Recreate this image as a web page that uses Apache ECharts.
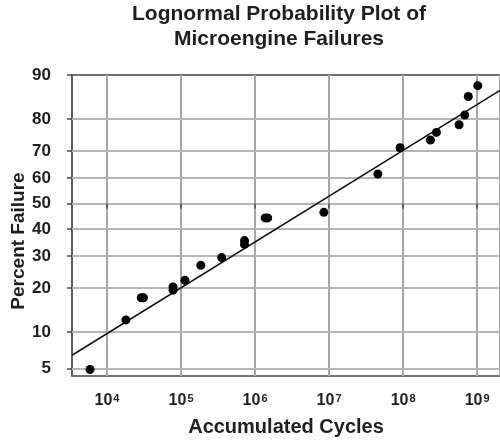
<!DOCTYPE html>
<html>
<head>
<meta charset="utf-8">
<script src="https://cdn.jsdelivr.net/npm/echarts@6/dist/echarts.min.js"></script>
<style>
  html, body { margin: 0; padding: 0; background: #fff; }
  #chart { width: 500px; height: 442px; }
</style>
</head>
<body>
<div id="chart"></div>
<script>
// Observed failures: accumulated cycles at failure and cumulative percent failed
const cycles = [5.9e3, 1.8e4, 2.9e4, 3.1e4, 7.8e4, 7.8e4, 1.13e5, 1.85e5, 3.54e5, 7.2e5, 7.2e5,
                1.37e6, 1.48e6, 8.5e6, 4.56e7, 9.1e7, 2.34e8, 2.82e8, 5.7e8, 6.8e8, 7.6e8, 1.02e9];
const percentFailed = [4.9, 12.3, 17.4, 17.4, 20.3, 19.4, 22.2, 26.9, 29.5, 35.6, 34.2,
                       44.3, 44.3, 46.5, 61.6, 71.1, 73.7, 76.1, 78.4, 81.1, 85.7, 88.0];

// Probability-scale tick labels (percent)
const percentTicks = [5, 10, 20, 30, 40, 50, 60, 70, 80, 90];

// Lognormal fit: median life (cycles) and shape in decades
const fitMedianCycles = 6.9e6;
const fitSigmaDecades = 2.19;

// Axis extents
const cycleMin = Math.pow(10, 3.527);
const cycleMax = Math.pow(10, 9.309);
const percentMin = 4.28;
const percentMax = 90;

// Inverse standard normal CDF (Acklam)
function probit(p) {
  const a = [-3.969683028665376e+01, 2.209460984245205e+02, -2.759285104469687e+02,
             1.383577518672690e+02, -3.066479806614716e+01, 2.506628277459239e+00];
  const b = [-5.447609879822406e+01, 1.615858368580409e+02, -1.556989798598866e+02,
             6.680131188771972e+01, -1.328068155288572e+01];
  const c = [-7.784894002430293e-03, -3.223964580411365e-01, -2.400758277161838e+00,
             -2.549732539343734e+00, 4.374664141464968e+00, 2.938163982698783e+00];
  const d = [7.784695709041462e-03, 3.224671290700398e-01, 2.445134137142996e+00,
             3.754408661907416e+00];
  const pl = 0.02425, ph = 1 - pl;
  let q, r;
  if (p < pl) {
    q = Math.sqrt(-2 * Math.log(p));
    return (((((c[0]*q+c[1])*q+c[2])*q+c[3])*q+c[4])*q+c[5]) /
           ((((d[0]*q+d[1])*q+d[2])*q+d[3])*q+1);
  }
  if (p <= ph) {
    q = p - 0.5; r = q * q;
    return (((((a[0]*r+a[1])*r+a[2])*r+a[3])*r+a[4])*r+a[5])*q /
           (((((b[0]*r+b[1])*r+b[2])*r+b[3])*r+b[4])*r+1);
  }
  q = Math.sqrt(-2 * Math.log(1 - p));
  return -(((((c[0]*q+c[1])*q+c[2])*q+c[3])*q+c[4])*q+c[5]) /
          ((((d[0]*q+d[1])*q+d[2])*q+d[3])*q+1);
}
const z = pct => probit(pct / 100);

const tickZ = percentTicks.map(z);
const pointData = cycles.map((c, i) => [c, z(percentFailed[i])]);
const fitZ = c => (Math.log10(c) - Math.log10(fitMedianCycles)) / fitSigmaDecades;
const fitData = [[cycleMin, fitZ(cycleMin)], [cycleMax, fitZ(cycleMax)]];

const ink = '#1e1e1e';
const axisInk = '#444';
const font = 'Liberation Sans, Arial, sans-serif';

const gridLeft = 72, gridRight = -3;
const plotWidth = 500 - gridLeft - gridRight;

const chart = echarts.init(document.getElementById('chart'), null, { renderer: 'canvas' });
chart.setOption({
  animation: false,
  backgroundColor: '#fff',
  graphic: [
    {
      type: 'text', x: 279, y: 2,
      style: {
        text: 'Lognormal Probability Plot of\nMicroengine Failures',
        fill: ink, font: 'bold 21px ' + font, lineHeight: 25,
        textAlign: 'center', textVerticalAlign: 'top'
      }
    },
    {
      type: 'text', x: 19, y: 241, rotation: Math.PI / 2,
      style: {
        text: 'Percent Failure', fill: ink, font: 'bold 19px ' + font,
        textAlign: 'center', textVerticalAlign: 'middle'
      }
    }
  ],
  grid: {
    left: gridLeft, right: gridRight, top: 75, bottom: 65,
    show: true, borderColor: axisInk, borderWidth: 1.5, backgroundColor: 'rgba(0,0,0,0)'
  },
  xAxis: {
    type: 'log', logBase: 10, min: cycleMin, max: cycleMax,
    name: 'Accumulated Cycles', nameLocation: 'middle', nameGap: 41,
    nameTextStyle: { color: ink, fontSize: 20, fontWeight: 'bold', fontFamily: font },
    axisLine: { show: true, lineStyle: { color: axisInk, width: 1.5 } },
    axisTick: { show: true, length: 5, lineStyle: { color: axisInk, width: 1.5 } },
    splitLine: { show: true, lineStyle: { color: '#a6a6a6', width: 2 } },
    minorTick: { show: false }, minorSplitLine: { show: false },
    axisLabel: {
      margin: 17, showMinLabel: false, showMaxLabel: false,
      formatter: v => '{b|10}{s|' + Math.round(Math.log10(v)) + '}',
      rich: {
        b: { fontSize: 16, fontWeight: 'bold', color: ink, fontFamily: font, verticalAlign: 'top', lineHeight: 18 },
        s: { fontSize: 11, fontWeight: 'bold', color: ink, fontFamily: font, verticalAlign: 'top', lineHeight: 18, padding: [0, 0, 0, 1] }
      }
    }
  },
  yAxis: [
    {
      // probability grid: inward ticks spanning the full plot width
      type: 'value', position: 'left', min: z(percentMin), max: z(percentMax),
      axisLine: { show: false },
      axisLabel: { show: false },
      splitLine: { show: false },
      axisTick: {
        show: true, inside: true, length: plotWidth,
        customValues: tickZ.slice(0, -1),
        lineStyle: { color: '#b5b5b5', width: 2 }
      }
    },
    {
      type: 'value', position: 'left', min: z(percentMin), max: z(percentMax),
      axisLine: { show: true, lineStyle: { color: axisInk, width: 1.5 } },
      axisTick: { show: true, length: 5, customValues: tickZ, lineStyle: { color: axisInk, width: 1.5 } },
      splitLine: { show: false },
      axisLabel: {
        margin: 21, customValues: tickZ,
        color: ink, fontSize: 17, fontWeight: 'bold', fontFamily: font,
        formatter: v => {
          let best = 0;
          tickZ.forEach((t, i) => { if (Math.abs(t - v) < Math.abs(tickZ[best] - v)) best = i; });
          return String(percentTicks[best]);
        }
      }
    }
  ],
  series: [
    {
      type: 'line', data: fitData, yAxisIndex: 1, z: 3, silent: true,
      symbol: 'none', lineStyle: { color: '#111', width: 1.5 }
    },
    {
      type: 'scatter', data: pointData, yAxisIndex: 1, z: 4,
      symbol: 'circle', symbolSize: 9,
      itemStyle: { color: '#000', opacity: 1 }
    }
  ]
});
</script>
</body>
</html>
